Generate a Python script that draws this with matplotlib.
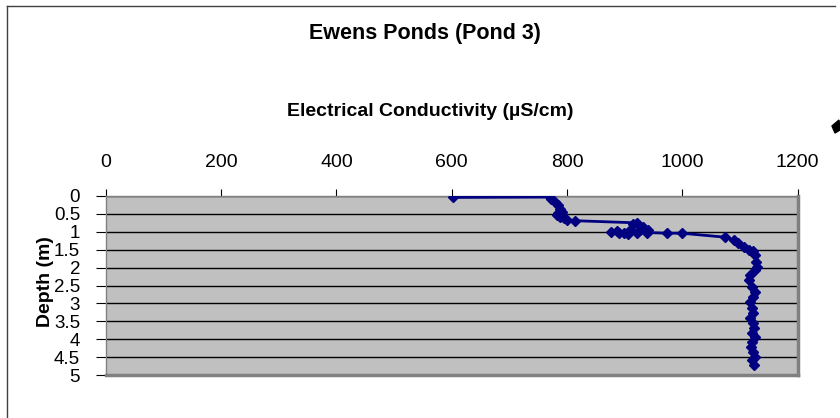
import matplotlib
matplotlib.use('Agg')
import matplotlib.pyplot as plt
from matplotlib.lines import Line2D
from matplotlib.patches import Polygon

plt.rcParams['font.family'] = ['Liberation Sans', 'DejaVu Sans']

# conductivity readings (uS/cm) and the depth (m) at which each was taken
conductivity = [603, 770, 773, 779, 785, 788, 791, 785, 782, 788, 794, 800, 814,
                921, 915, 932, 941, 927, 909, 921, 898, 886, 877, 890, 905, 938,
                973, 999, 1074, 1089, 1097, 1106, 1115, 1123, 1126, 1128, 1130,
                1126, 1117, 1115, 1120, 1126, 1122, 1117, 1120, 1123, 1117, 1122,
                1124, 1120, 1126, 1120, 1119, 1122, 1126, 1120, 1124]
depth = [0.04, 0.03, 0.07, 0.16, 0.25, 0.35, 0.44, 0.48, 0.53, 0.58, 0.62, 0.67, 0.69,
         0.75, 0.78, 0.86, 0.95, 0.95, 0.95, 1.02, 1.02, 0.97, 1.0, 1.03, 1.05, 1.02,
         1.04, 1.04, 1.15, 1.23, 1.32, 1.42, 1.51, 1.55, 1.65, 1.83, 1.97,
         2.07, 2.21, 2.35, 2.53, 2.67, 2.81, 2.95, 3.14, 3.28, 3.42, 3.56,
         3.70, 3.84, 3.93, 4.07, 4.21, 4.35, 4.49, 4.58, 4.72]

x_ticks = [0, 200, 400, 600, 800, 1000, 1200]
y_ticks = [0, 0.5, 1, 1.5, 2, 2.5, 3, 3.5, 4, 4.5, 5]
y_labels = ['0', '0.5', '1', '1.5', '2', '2.5', '3', '3.5', '4', '4.5', '5']

W, H = 840, 418
fig = plt.figure(figsize=(W / 100, H / 100), dpi=100)
ax = fig.add_axes([105.8 / W, 1 - 375 / H, (797.7 - 105.8) / W, (375 - 196) / H])

ax.set_facecolor('#c0c0c0')
ax.plot(conductivity, depth, color='#000080', lw=2, marker='D', ms=5.5,
        markeredgecolor='#000080', markerfacecolor='#000080', zorder=3)

ax.set_xlim(0, 1200)
ax.set_ylim(5, 0)
ax.set_xticks(x_ticks)
ax.set_yticks(y_ticks)
ax.set_yticklabels(y_labels)
ax.xaxis.tick_top()
ax.tick_params(axis='x', direction='out', length=5, pad=13, labelsize=14, width=0.8)
ax.tick_params(axis='y', direction='out', length=7, pad=11.5, labelsize=13.5, width=0.8)
ax.yaxis.grid(True, color='black', lw=1)
ax.set_axisbelow(True)

for s in ['left', 'top']:
    ax.spines[s].set_color('#808080')
    ax.spines[s].set_linewidth(1)
for s in ['right', 'bottom']:
    ax.spines[s].set_color('#808080')
    ax.spines[s].set_linewidth(2.5)

fig.text(425 / W, 1 - 33 / H, 'Ewens Ponds (Pond 3)', ha='center', va='center',
         fontsize=15.5, fontweight='bold')
fig.text(430 / W, 1 - 111 / H, 'Electrical Conductivity (\u00b5S/cm)', ha='center',
         va='center', fontsize=14, fontweight='bold')
fig.text(46 / W, 1 - 282 / H, 'Depth (m)', ha='center', va='center', rotation=90,
         fontsize=14, fontweight='bold')

# outer chart frame (only top and left visible)
fig.add_artist(Line2D([7 / W, 7 / W], [0, 1 - 6 / H], color='#404040', lw=1,
                      transform=fig.transFigure))
fig.add_artist(Line2D([7 / W, 835 / W], [1 - 6 / H, 1 - 6 / H], color='#404040', lw=1,
                      transform=fig.transFigure))

# small arrow tip poking in at the right edge
tip = [(832, 126), (839, 120), (840, 130), (835, 133)]
fig.add_artist(Polygon([(x / W, 1 - y / H) for x, y in tip], closed=True,
                       color='black', transform=fig.transFigure))

fig.savefig('out.png', dpi=100)
